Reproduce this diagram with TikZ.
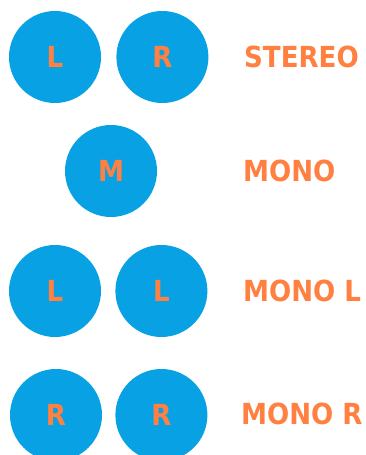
\documentclass[tikz,border=0pt]{standalone}
\usepackage{fontspec}
\setmainfont{DejaVu Sans Condensed}
\usetikzlibrary{positioning}

\definecolor{speakerblue}{RGB}{8,162,228}
\definecolor{labelorange}{RGB}{255,128,64}

\begin{document}
\begin{tikzpicture}[
    x=1pt, y=-1pt,                          % 1 unit = 1 pixel of the layout
    font=\fontsize{29}{32}\selectfont\bfseries,
    speaker/.style={circle, fill=speakerblue, minimum size=92pt,
                    inner sep=0pt, text=labelorange},
    modename/.style={anchor=west, inner sep=0pt, text=labelorange}
]
    \useasboundingbox (0,0) rectangle (365,455);

    % --- 1. STEREO ---
    \node [speaker] (stL) at (55,57) {L};
    \node [speaker, right=15pt of stL] (stR) {R};
    \node [modename] (stereo) at (244,57) {STEREO};

    % --- 2. MONO ---
    \node [speaker] (moM) at (111,171) {M};
    \node [modename] (mono) at (243,171) {MONO};

    % --- 3. MONO L ---
    \node [speaker] (mlA) at (55,291) {L};
    \node [speaker, right=14pt of mlA] (mlB) {L};
    \node [modename] (monoL) at (243,291) {MONO L};

    % --- 4. MONO R ---
    \node [speaker] (mrA) at (56,415) {R};
    \node [speaker, right=13pt of mrA] (mrB) {R};
    \node [modename] (monoR) at (241,414) {MONO R};

\end{tikzpicture}
\end{document}
